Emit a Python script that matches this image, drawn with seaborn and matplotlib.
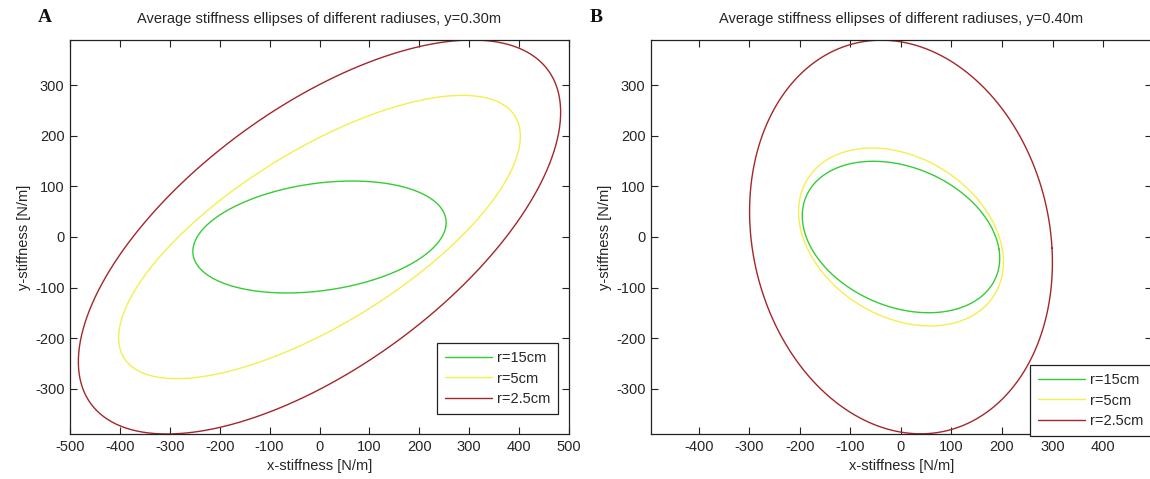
import numpy as np
import pandas as pd
import matplotlib
matplotlib.use("Agg")
import matplotlib.pyplot as plt
import seaborn as sns

radius_labels = ["r=15cm", "r=5cm", "r=2.5cm"]
line_colors = ["#36cc36", "#f4ef4c", "#a3262b"]

# average stiffness matrices (N/m), one entry per radius: [r=15cm, r=5cm, r=2.5cm]
kxx_030 = [253, 382, 461]
kxy_030 = [20, 127, 145]
kyy_030 = [109, 250, 362]

kxx_040 = [194, 201, 299]
kxy_040 = [-24, -27, -22]
kyy_040 = [148, 174, 389]

panel_letters = ["A", "B"]
panel_titles = ["Average stiffness ellipses of different radiuses, y=0.30m",
                "Average stiffness ellipses of different radiuses, y=0.40m"]
xticks_a = list(range(-500, 600, 100))
xticks_b = list(range(-400, 500, 100))
yticks = list(range(-300, 400, 100))


def ellipse_frame(kxx, kxy, kyy):
    # stiffness ellipse: force response K*u for unit displacement u on a circle
    theta = np.linspace(0, 2 * np.pi, 361)
    rows = []
    for lab, a, b, d in zip(radius_labels, kxx, kxy, kyy):
        rows.append(pd.DataFrame({
            "x": a * np.cos(theta) + b * np.sin(theta),
            "y": b * np.cos(theta) + d * np.sin(theta),
            "radius": lab,
        }))
    return pd.concat(rows, ignore_index=True)


sns.set_style("white")
plt.rcParams["font.family"] = ["Liberation Sans", "DejaVu Sans"]
plt.rcParams["axes.unicode_minus"] = False

text_col = "#262626"
fig = plt.figure(figsize=(11.5, 4.79), dpi=100)
ax_a = fig.add_axes([70 / 1150, 45 / 479, 499 / 1150, 394 / 479])
ax_b = fig.add_axes([651 / 1150, 45 / 479, 501 / 1150, 394 / 479])

frames = [ellipse_frame(kxx_030, kxy_030, kyy_030),
          ellipse_frame(kxx_040, kxy_040, kyy_040)]
xlims = [(-500, 500), (-495, 497)]
xticks_list = [xticks_a, xticks_b]
legend_pos = [(437 / 1150, 1 - 343 / 479), (1030 / 1150, 1 - 365 / 479)]
letter_x = [45 / 1150, 596 / 1150]

for ax, df, title, xl, xt, lpos, letter, lx in zip(
        [ax_a, ax_b], frames, panel_titles, xlims, xticks_list,
        legend_pos, panel_letters, letter_x):
    sns.lineplot(data=df, x="x", y="y", hue="radius", hue_order=radius_labels,
                 palette=line_colors, sort=False, estimator=None,
                 linewidth=1.0, ax=ax)
    ax.set_xlim(*xl)
    ax.set_ylim(-390, 390)
    ax.set_xticks(xt)
    ax.set_yticks(yticks)
    ax.tick_params(direction="in", length=5, width=0.8, labelsize=10.5,
                   colors="#222222", labelcolor=text_col, pad=4,
                   bottom=True, left=True, top=True, right=True)
    for s in ax.spines.values():
        s.set_color("#222222")
        s.set_linewidth(0.9)
    ax.set_xlabel("x-stiffness [N/m]", fontsize=10.5, color=text_col, labelpad=4)
    ax.set_ylabel("y-stiffness [N/m]", fontsize=10.5, color=text_col, labelpad=3)
    ax.set_title(title, fontsize=10.5, color=text_col, pad=12)

    handles, labels = ax.get_legend_handles_labels()
    leg = ax.legend(handles, labels, loc="upper left", bbox_to_anchor=lpos,
                    bbox_transform=fig.transFigure, fontsize=10.5,
                    frameon=True, fancybox=False, framealpha=1,
                    edgecolor="#222222", borderaxespad=0, borderpad=0.55,
                    labelspacing=0.45, handlelength=3.2, handletextpad=0.35)
    leg.get_frame().set_linewidth(0.9)
    for t in leg.get_texts():
        t.set_color(text_col)

    fig.text(lx, 1 - 18 / 479, letter, fontsize=14, fontweight="bold",
             family="Liberation Serif", ha="center", va="center", color="#111111")

fig.savefig("out.png", dpi=100)
